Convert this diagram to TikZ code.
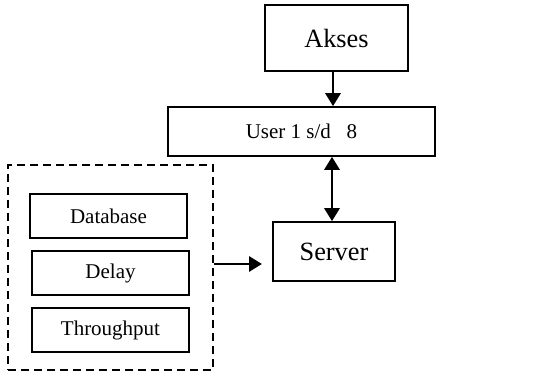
\documentclass[tikz,border=0pt]{standalone}
\usepackage{fontspec}
\setmainfont{Liberation Serif}
\usetikzlibrary{arrows.meta}
\begin{document}
\begin{tikzpicture}[x=0.75pt,y=-0.75pt,
  box/.style={draw,line width=1.2pt,inner sep=0pt,align=center},
  big/.style={font=\fontsize{19.75}{21}\selectfont},
  small/.style={font=\fontsize{15.75}{17}\selectfont},
  tip/.style={Triangle[length=9.75pt,width=11.25pt]},
  arr/.style={line width=2.2pt,-{Triangle[length=9.75pt,width=11.25pt]}},
  darr/.style={line width=2.2pt,{Triangle[length=9.75pt,width=11.25pt]}-{Triangle[length=9.75pt,width=11.25pt]}},
  grp/.style={draw,line width=2pt,dash pattern=on 6pt off 3.75pt,inner sep=0pt}]
\useasboundingbox (0,0) rectangle (535,373);
\node[box,big,minimum width=107.25pt,minimum height=49.5pt] (akses) at (336.5,38) {Akses};
\node[box,small,minimum width=200.25pt,minimum height=36.75pt] (user) at (301.5,131.5) {User 1 s/d \ \ 8};
\node[box,big,minimum width=91.5pt,minimum height=44.25pt] (server) at (334,251.5) {Server};
\node[grp,minimum width=153.75pt,minimum height=153.75pt] (group) at (110.5,267.5) {};
\node[box,small,minimum width=117.75pt,minimum height=33pt] (db) at (108.5,216) {Database};
\node[box,small,minimum width=117.75pt,minimum height=33pt] (delay) at (110.5,273) {Delay};
\node[box,small,minimum width=117.75pt,minimum height=33pt] (tp) at (110.5,330) {Throughput};
\coordinate (a1) at (333,0);
\coordinate (a2) at (332,0);
\coordinate (a3) at (0,264);
\coordinate (tipend) at (262,264);
\draw[arr] (akses.south -| a1) -- (user.north -| a1);
\draw[darr] (user.south -| a2) -- (server.north -| a2);
\draw[arr] (group.east |- a3) -- (tipend);
\end{tikzpicture}
\end{document}
